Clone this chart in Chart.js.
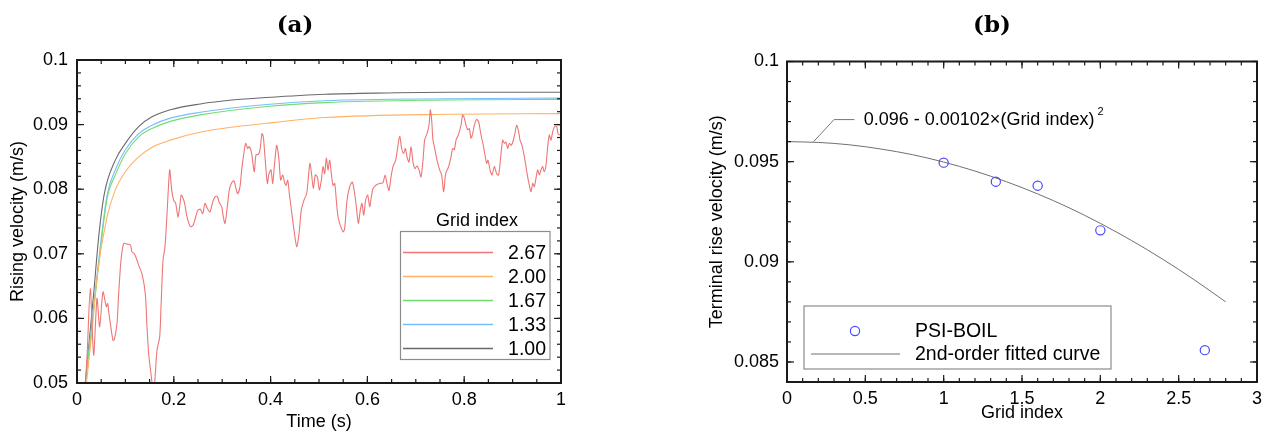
<!DOCTYPE html>
<html><head><meta charset="utf-8">
<script src="https://cdn.jsdelivr.net/npm/chart.js@4.4.1/dist/chart.umd.min.js"></script>
<style>
html,body{margin:0;padding:0;background:#fff;width:1268px;height:435px;overflow:hidden}
canvas{position:absolute;top:0}
#ca{left:0}#cb{left:630px}
</style></head><body>
<canvas id="ca" width="630" height="435"></canvas>
<canvas id="cb" width="638" height="435"></canvas>
<script>
// ---------- Panel (a) data ----------
const titleA = '(a)';
const xTitleA = 'Time (s)';
const yTitleA = 'Rising velocity (m/s)';
const legendTitleA = 'Grid index';
const gridLabels = ['2.67', '2.00', '1.67', '1.33', '1.00'];
const xTicksA = [0, 0.2, 0.4, 0.6, 0.8, 1];
const xTickLabelsA = ['0', '0.2', '0.4', '0.6', '0.8', '1'];
const yTicksA = [0.05, 0.06, 0.07, 0.08, 0.09, 0.1];
const yTickLabelsA = ['0.05', '0.06', '0.07', '0.08', '0.09', '0.1'];

const timeRed = [
 0.0172,0.0207,0.0275,0.0344,0.0413,0.0468,0.0537,0.0606,0.0634,0.0661,
 0.0689,0.0744,0.0771,0.0826,0.0861,0.0909,0.0964,0.1033,0.1102,0.1136,
 0.1185,0.1240,0.1274,0.1343,0.1412,0.1446,0.1481,0.1529,0.1584,0.1618,
 0.1653,0.1708,0.1736,0.1777,0.1818,0.1860,0.1915,0.1956,0.1997,0.2039,
 0.2087,0.2121,0.2156,0.2218,0.2273,0.2342,0.2397,0.2445,0.2493,0.2548,
 0.2597,0.2645,0.2693,0.2748,0.2803,0.2851,0.2899,0.2941,0.2989,0.3023,
 0.3058,0.3106,0.3147,0.3196,0.3244,0.3285,0.3320,0.3368,0.3402,0.3437,
 0.3485,0.3526,0.3561,0.3609,0.3643,0.3664,0.3698,0.3747,0.3781,0.3822,
 0.3850,0.3884,0.3933,0.3967,0.4008,0.4043,0.4077,0.4125,0.4167,0.4208,
 0.4249,0.4291,0.4318,0.4353,0.4387,0.4435,0.4483,0.4539,0.4587,0.4635,
 0.4690,0.4745,0.4787,0.4814,0.4848,0.4883,0.4924,0.4966,0.5007,0.5048,
 0.5083,0.5117,0.5152,0.5186,0.5220,0.5255,0.5289,0.5324,0.5358,0.5393,
 0.5441,0.5496,0.5530,0.5579,0.5634,0.5689,0.5737,0.5771,0.5813,0.5854,
 0.5888,0.5923,0.5964,0.6006,0.6047,0.6081,0.6116,0.6171,0.6219,0.6267,
 0.6322,0.6364,0.6405,0.6446,0.6488,0.6529,0.6584,0.6618,0.6667,0.6708,
 0.6749,0.6784,0.6818,0.6860,0.6901,0.6942,0.6983,0.7025,0.7066,0.7107,
 0.7149,0.7183,0.7231,0.7273,0.7300,0.7328,0.7355,0.7397,0.7438,0.7493,
 0.7534,0.7576,0.7617,0.7679,0.7727,0.7762,0.7796,0.7831,0.7879,0.7934,
 0.7968,0.8003,0.8037,0.8072,0.8106,0.8140,0.8175,0.8209,0.8258,0.8299,
 0.8347,0.8395,0.8437,0.8464,0.8492,0.8533,0.8574,0.8623,0.8671,0.8712,
 0.8747,0.8795,0.8829,0.8864,0.8898,0.8933,0.8974,0.9015,0.9050,0.9084,
 0.9125,0.9153,0.9194,0.9236,0.9277,0.9311,0.9346,0.9380,0.9415,0.9449,
 0.9483,0.9518,0.9552,0.9587,0.9621,0.9655,0.9690,0.9725,0.9759,0.9793,
 0.9828,0.9869,0.9910,0.9938,0.9966,1.0000
];
const velRed = [
 0.0500,0.0540,0.0646,0.0543,0.0631,0.0587,0.0641,0.0618,0.0623,0.0607,
 0.0592,0.0566,0.0567,0.0592,0.0638,0.0690,0.0716,0.0715,0.0714,0.0703,
 0.0700,0.0690,0.0682,0.0669,0.0638,0.0587,0.0545,0.0514,0.0483,0.0514,
 0.0551,0.0571,0.0618,0.0690,0.0711,0.0762,0.0830,0.0799,0.0783,0.0778,
 0.0757,0.0773,0.0791,0.0780,0.0757,0.0742,0.0744,0.0755,0.0767,0.0769,
 0.0762,0.0778,0.0770,0.0765,0.0780,0.0788,0.0789,0.0779,0.0773,0.0757,
 0.0747,0.0773,0.0799,0.0810,0.0813,0.0801,0.0793,0.0804,0.0830,0.0850,
 0.0871,0.0863,0.0866,0.0855,0.0835,0.0827,0.0853,0.0854,0.0861,0.0886,
 0.0881,0.0850,0.0809,0.0824,0.0830,0.0809,0.0835,0.0868,0.0850,0.0814,
 0.0822,0.0810,0.0806,0.0814,0.0793,0.0765,0.0737,0.0711,0.0731,0.0768,
 0.0783,0.0793,0.0824,0.0840,0.0822,0.0801,0.0822,0.0819,0.0799,0.0814,
 0.0835,0.0824,0.0848,0.0830,0.0845,0.0824,0.0806,0.0809,0.0783,0.0757,
 0.0744,0.0734,0.0739,0.0783,0.0804,0.0811,0.0793,0.0773,0.0747,0.0768,
 0.0778,0.0760,0.0783,0.0791,0.0773,0.0788,0.0801,0.0806,0.0808,0.0809,
 0.0810,0.0822,0.0809,0.0798,0.0819,0.0835,0.0845,0.0861,0.0882,0.0863,
 0.0855,0.0863,0.0850,0.0842,0.0866,0.0842,0.0832,0.0836,0.0830,0.0819,
 0.0845,0.0876,0.0886,0.0899,0.0923,0.0907,0.0876,0.0861,0.0845,0.0830,
 0.0822,0.0796,0.0824,0.0835,0.0850,0.0863,0.0861,0.0876,0.0884,0.0899,
 0.0915,0.0910,0.0899,0.0892,0.0894,0.0879,0.0886,0.0899,0.0908,0.0904,
 0.0884,0.0868,0.0850,0.0840,0.0845,0.0830,0.0822,0.0835,0.0824,0.0822,
 0.0845,0.0876,0.0871,0.0873,0.0863,0.0871,0.0868,0.0876,0.0887,0.0899,
 0.0889,0.0876,0.0868,0.0853,0.0835,0.0819,0.0806,0.0796,0.0809,0.0804,
 0.0817,0.0830,0.0822,0.0830,0.0835,0.0827,0.0837,0.0866,0.0884,0.0876,
 0.0889,0.0897,0.0897,0.0886,0.0884,0.0886
];
const timeOrange = [0.0195,0.031,0.0413,0.062,0.0792,0.0999,0.1274,0.155,0.1928,0.2583,0.3919,0.5124,0.7665,1.0];
const velOrange  = [0.0500,0.0580,0.0664,0.0757,0.0799,0.0827,0.0850,0.0865,0.0876,0.0889,0.0902,0.0911,0.0916,0.0917];
const timeGreen  = [0.0172,0.031,0.0448,0.062,0.0792,0.0999,0.1274,0.155,0.1928,0.2548,0.3919,0.5124,0.7665,1.0];
const velGreen   = [0.0500,0.0590,0.0683,0.0785,0.0822,0.0855,0.0881,0.0894,0.0905,0.0915,0.0928,0.0934,0.0938,0.0939];
const timeBlue   = [0.0172,0.031,0.0448,0.062,0.0792,0.0999,0.1274,0.155,0.1928,0.2548,0.3919,0.5124,0.7665,1.0];
const velBlue    = [0.0500,0.0595,0.0690,0.0790,0.0830,0.0861,0.0886,0.0899,0.0910,0.0919,0.0931,0.0937,0.0940,0.0941];
const timeBlack  = [0.0172,0.0344,0.0448,0.0565,0.0792,0.0999,0.1274,0.155,0.1928,0.2548,0.32,0.3919,0.5124,0.64,0.7665,1.0];
const velBlack   = [0.0500,0.0638,0.0726,0.0793,0.0845,0.0871,0.0897,0.0912,0.0923,0.0932,0.0938,0.0942,0.0947,0.0949,0.0950,0.0950];

// ---------- Panel (b) data ----------
const titleB = '(b)';
const xTitleB = 'Grid index';
const yTitleB = 'Terminal rise velocity (m/s)';
const seriesNamesB = ['PSI-BOIL', '2nd-order fitted curve'];
const gridIndex = [1.0, 1.333, 1.6, 2.0, 2.667];
const terminalVel = [0.09495, 0.0940, 0.0938, 0.09157, 0.08559];
const fitX = [0, 0.2, 0.4, 0.6, 0.8, 1.0, 1.2, 1.4, 1.6, 1.8, 2.0, 2.2, 2.4, 2.6, 2.8];
const fitY = [0.0960, 0.09596, 0.09584, 0.09563, 0.09535, 0.09498, 0.09453, 0.09400, 0.09339, 0.09270, 0.09192, 0.09106, 0.09012, 0.08910, 0.08800];
const fitLabel = '0.096 - 0.00102\u00d7(Grid index)';
const fitLabelSup = '2';
const xTicksB = [0, 0.5, 1, 1.5, 2, 2.5, 3];
const xTickLabelsB = ['0', '0.5', '1', '1.5', '2', '2.5', '3'];
const yTicksB = [0.085, 0.09, 0.095, 0.1];
const yTickLabelsB = ['0.085', '0.09', '0.095', '0.1'];

// ---------- styling ----------
const SANS = '"Liberation Sans", Arial, Helvetica, sans-serif';
const SERIF = '"DejaVu Serif", "Liberation Serif", serif';
const colorsA = ['#ee7676', '#ffb266', '#6fde6f', '#78bcff', '#6a6a6a'];

function pts(xs, ys) { return xs.map((v, i) => ({x: v, y: ys[i]})); }

const frameTicks = {
  id: 'frameTicks',
  afterDraw(chart, args, o) {
    const {ctx, chartArea: a, scales: {x, y}} = chart;
    ctx.save();
    ctx.strokeStyle = '#1a1a1a';
    ctx.lineWidth = 1.2;
    const seg = (x1, y1, x2, y2) => { ctx.beginPath(); ctx.moveTo(x1, y1); ctx.lineTo(x2, y2); ctx.stroke(); };
    const doX = (v, len) => { const p = x.getPixelForValue(v); seg(p, a.bottom, p, a.bottom - len); seg(p, a.top, p, a.top + len); };
    const doY = (v, len) => { const p = y.getPixelForValue(v); seg(a.left, p, a.left + len, p); seg(a.right, p, a.right - len, p); };
    const nx = Math.round((x.max - x.min) / o.xMinor);
    for (let i = 0; i <= nx; i++) doX(x.min + i * o.xMinor, o.minorLen);
    const ny = Math.round((y.max - y.min) / o.yMinor);
    for (let i = 0; i <= ny; i++) doY(y.min + i * o.yMinor, o.minorLen);
    x.ticks.forEach(t => doX(t.value, o.majorLen));
    y.ticks.forEach(t => doY(t.value, o.majorLen));
    ctx.lineWidth = 2;
    ctx.strokeRect(a.left, a.top, a.right - a.left, a.bottom - a.top);
    // panel title
    ctx.fillStyle = '#000';
    ctx.font = 'bold 23px ' + SERIF;
    ctx.textAlign = 'center';
    ctx.textBaseline = 'middle';
    ctx.fillText(o.title, o.titleX, o.titleY);
    ctx.restore();
  }
};

const legendA = {
  id: 'legendA',
  afterDraw(chart, args, o) {
    const {ctx} = chart;
    const [l, t, r, b] = o.box;
    ctx.save();
    ctx.fillStyle = '#fff';
    ctx.fillRect(l, t, r - l, b - t);
    ctx.strokeStyle = '#8c8c8c';
    ctx.lineWidth = 1.2;
    ctx.strokeRect(l, t, r - l, b - t);
    ctx.fillStyle = '#000';
    ctx.font = '18px ' + SANS;
    ctx.textAlign = 'center';
    ctx.textBaseline = 'middle';
    ctx.fillText(legendTitleA, o.titleX, o.titleY);
    ctx.font = '19.5px ' + SANS;
    ctx.textAlign = 'right';
    chart.data.datasets.forEach((ds, i) => {
      const yy = o.firstRow + i * o.rowGap;
      ctx.strokeStyle = ds.borderColor;
      ctx.lineWidth = 1.3;
      ctx.beginPath(); ctx.moveTo(o.lineX1, yy); ctx.lineTo(o.lineX2, yy); ctx.stroke();
      ctx.fillStyle = '#000';
      ctx.fillText(ds.label, o.textRight, yy + 1);
    });
    ctx.restore();
  }
};

const legendB = {
  id: 'legendB',
  afterDraw(chart, args, o) {
    const {ctx} = chart;
    const [l, t, r, b] = o.box;
    const dsP = chart.data.datasets[0], dsL = chart.data.datasets[1];
    ctx.save();
    ctx.fillStyle = '#fff';
    ctx.fillRect(l, t, r - l, b - t);
    ctx.strokeStyle = '#8c8c8c';
    ctx.lineWidth = 1.2;
    ctx.strokeRect(l, t, r - l, b - t);
    ctx.strokeStyle = dsP.borderColor;
    ctx.lineWidth = dsP.borderWidth;
    ctx.beginPath(); ctx.arc(o.markX, o.row1, dsP.pointRadius, 0, Math.PI * 2); ctx.stroke();
    ctx.strokeStyle = dsL.borderColor;
    ctx.lineWidth = dsL.borderWidth;
    ctx.beginPath(); ctx.moveTo(o.lineX1, o.row2); ctx.lineTo(o.lineX2, o.row2); ctx.stroke();
    ctx.fillStyle = '#000';
    ctx.font = '19.5px ' + SANS;
    ctx.textAlign = 'left';
    ctx.textBaseline = 'middle';
    ctx.fillText(dsP.label, o.textX, o.row1 + 1);
    ctx.fillText(dsL.label, o.textX, o.row2 + 1);
    // formula annotation with leader line (anchored in data coordinates)
    const {x, y} = chart.scales;
    ctx.strokeStyle = '#777';
    ctx.lineWidth = 1;
    ctx.beginPath();
    o.leader.forEach((p, i) => {
      const px = x.getPixelForValue(p[0]), py = y.getPixelForValue(p[1]);
      if (i === 0) ctx.moveTo(px, py); else ctx.lineTo(px, py);
    });
    ctx.stroke();
    const tx = x.getPixelForValue(o.labelAt[0]), ty = y.getPixelForValue(o.labelAt[1]);
    ctx.font = '18px ' + SANS;
    ctx.fillText(fitLabel, tx, ty);
    const w = ctx.measureText(fitLabel).width;
    ctx.font = '11px ' + SANS;
    ctx.fillText(fitLabelSup, tx + w + 3, ty - 8);
    ctx.restore();
  }
};

const tickFont = {family: SANS, size: 18};
const titleFont = {family: SANS, size: 18};

// ---------- Chart (a) ----------
new Chart(document.getElementById('ca'), {
  type: 'scatter',
  data: {
    datasets: [
      {label: gridLabels[0], data: pts(timeRed, velRed), borderColor: colorsA[0], tension: 0.25},
      {label: gridLabels[1], data: pts(timeOrange, velOrange), borderColor: colorsA[1], cubicInterpolationMode: 'monotone'},
      {label: gridLabels[2], data: pts(timeGreen, velGreen), borderColor: colorsA[2], cubicInterpolationMode: 'monotone'},
      {label: gridLabels[3], data: pts(timeBlue, velBlue), borderColor: colorsA[3], cubicInterpolationMode: 'monotone'},
      {label: gridLabels[4], data: pts(timeBlack, velBlack), borderColor: colorsA[4], cubicInterpolationMode: 'monotone'}
    ].map(d => Object.assign({showLine: true, pointRadius: 0, borderWidth: 1.1, backgroundColor: d.borderColor}, d))
  },
  options: {
    responsive: false, animation: false, devicePixelRatio: 1,
    layout: {padding: {left: 0, top: 60, right: 69, bottom: 0}},
    plugins: {
      legend: {display: false}, tooltip: {enabled: false},
      frameTicks: {xMinor: 0.05, yMinor: 0.002, majorLen: 7, minorLen: 4, title: titleA, titleX: 295, titleY: 26},
      legendA: {box: [400.5, 231.5, 550, 359.5], titleX: 477, titleY: 221, firstRow: 252.5, rowGap: 24, lineX1: 403, lineX2: 493, textRight: 546}
    },
    scales: {
      x: {
        type: 'linear', min: 0, max: 1,
        afterBuildTicks: s => { s.ticks = xTicksA.map(v => ({value: v})); },
        afterFit: s => { s.height = 52; },
        grid: {display: false, drawTicks: false}, border: {display: false},
        ticks: {font: tickFont, color: '#000', padding: 6, maxRotation: 0, autoSkip: false, callback: (v, i) => xTickLabelsA[i]},
        title: {display: true, text: xTitleA, font: titleFont, color: '#000', padding: {top: 0, bottom: 2.5}}
      },
      y: {
        type: 'linear', min: 0.05, max: 0.1,
        afterBuildTicks: s => { s.ticks = yTicksA.map(v => ({value: v})); },
        afterFit: s => { s.width = 77; },
        grid: {display: false, drawTicks: false}, border: {display: false},
        ticks: {font: tickFont, color: '#000', padding: 9, autoSkip: false, callback: (v, i) => yTickLabelsA[i]},
        title: {display: true, text: yTitleA, font: titleFont, color: '#000', padding: {top: 7, bottom: 0}}
      }
    }
  },
  plugins: [frameTicks, legendA]
});

// ---------- Chart (b) ----------
new Chart(document.getElementById('cb'), {
  type: 'scatter',
  data: {
    datasets: [
      {label: seriesNamesB[0], data: pts(gridIndex, terminalVel), showLine: false, pointStyle: 'circle',
       pointRadius: 4.6, borderWidth: 1.2, borderColor: '#4848ff', backgroundColor: 'rgba(0,0,0,0)'},
      {label: seriesNamesB[1], data: pts(fitX, fitY), showLine: true, pointRadius: 0, borderWidth: 1,
       borderColor: '#707070', backgroundColor: '#707070', cubicInterpolationMode: 'monotone'}
    ]
  },
  options: {
    responsive: false, animation: false, devicePixelRatio: 1,
    layout: {padding: {left: 0, top: 61.5, right: 10, bottom: 0}},
    plugins: {
      legend: {display: false}, tooltip: {enabled: false},
      frameTicks: {xMinor: 0.1, yMinor: 0.001, majorLen: 7, minorLen: 4, title: titleB, titleX: 362, titleY: 26},
      legendB: {box: [174, 306, 481, 369], markX: 225, row1: 331, row2: 354, lineX1: 181, lineX2: 270, textX: 285,
                leader: [[0.17, 0.0960], [0.30, 0.0971], [0.43, 0.0971]], labelAt: [0.49, 0.0971]}
    },
    scales: {
      x: {
        type: 'linear', min: 0, max: 3,
        afterBuildTicks: s => { s.ticks = xTicksB.map(v => ({value: v})); },
        afterFit: s => { s.height = 53; },
        grid: {display: false, drawTicks: false}, border: {display: false},
        ticks: {font: tickFont, color: '#000', padding: 6, maxRotation: 0, autoSkip: false, callback: (v, i) => xTickLabelsB[i]},
        title: {display: true, text: xTitleB, font: titleFont, color: '#000', padding: {top: 0, bottom: 11}}
      },
      y: {
        type: 'linear', min: 0.084, max: 0.1,
        afterBuildTicks: s => { s.ticks = yTicksB.map(v => ({value: v})); },
        afterFit: s => { s.width = 157; },
        grid: {display: false, drawTicks: false}, border: {display: false},
        ticks: {font: tickFont, color: '#000', padding: 8, autoSkip: false, callback: (v, i) => yTickLabelsB[i]},
        title: {display: true, text: yTitleB, font: titleFont, color: '#000', padding: {top: 76, bottom: 0}}
      }
    }
  },
  plugins: [frameTicks, legendB]
});
</script>
</body></html>
